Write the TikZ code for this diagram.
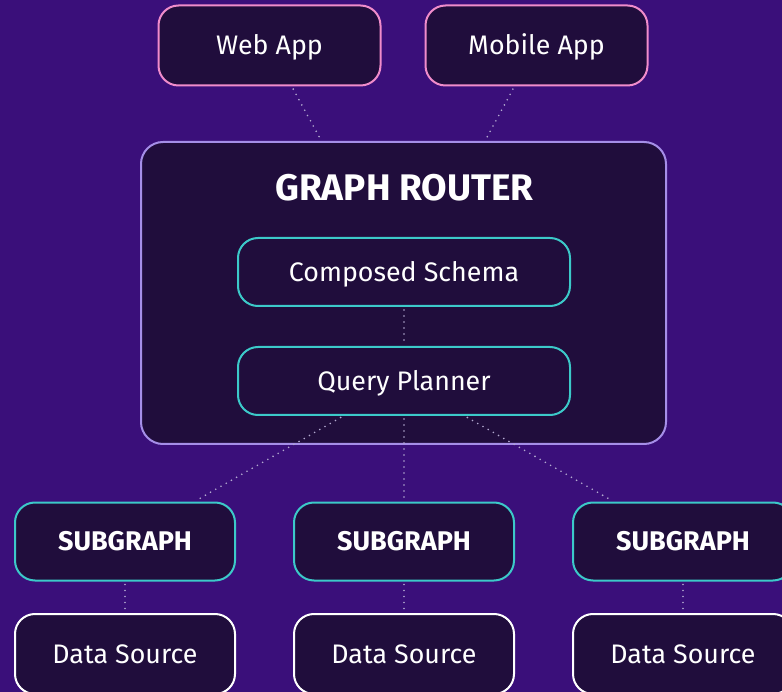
\documentclass[tikz,border=0pt]{standalone}
\usepackage{fontspec}
\setmainfont{Fira Sans}
\definecolor{bgpurple}{HTML}{3A0F7A}
\definecolor{boxfill}{HTML}{200D3C}
\definecolor{pinkline}{HTML}{F08CCB}
\definecolor{lavline}{HTML}{A58EE8}
\definecolor{tealline}{HTML}{3CC9C9}
\definecolor{dotline}{HTML}{B3AAD0}
\tikzset{
  x=1pt, y=-1pt,
  card/.style={draw, line width=2pt, fill=boxfill, rounded corners=20pt,
    text=white, inner sep=0pt, font=\fontsize{26.8}{30}\selectfont,
    text height=18.4pt, text depth=0pt},
  client/.style={card, draw=pinkline, minimum width=222pt, minimum height=80pt},
  inner/.style={card, draw=tealline, minimum width=332pt, minimum height=68pt},
  sub/.style={card, draw=tealline, minimum width=220pt, minimum height=78pt,
    font=\fontsize{27}{30}\selectfont\bfseries},
  source/.style={card, draw=white, minimum width=220pt, minimum height=80pt},
  heading/.style={text=white, inner sep=0pt, text height=25.5pt, text depth=0pt,
    font=\fontsize{37}{40}\selectfont\bfseries},
  link/.style={draw=dotline, line width=1.8pt, line cap=round,
    dash pattern=on 0pt off 6pt, shorten <=3pt, shorten >=2pt},
}
\begin{document}
\begin{tikzpicture}
\fill[bgpurple] (0,0) rectangle (782,692);
\useasboundingbox (0,0) rectangle (782,692);

% clients
\node[client] (web) at (269.5,45.5) {Web App};
\node[client] (mobile) at (536.5,45.5) {Mobile App};

% router
\node[card, draw=lavline, rounded corners=22pt, minimum width=525pt,
  minimum height=302pt] (router) at (403.5,293) {};
\node[heading] (title) at (404.5,188) {GRAPH ROUTER};

\draw[link] (web) -- (router);
\draw[link] (mobile) -- (router);

\node[inner] (schema) at (404,272) {Composed Schema};
\node[inner] (planner) at (404,381) {Query Planner};
\draw[link] (schema) -- (planner);

% subgraphs and their sources
\foreach \i/\x in {1/125, 2/404, 3/683} {
  \node[sub] (sub\i) at (\x,541.5) {SUBGRAPH};
  \node[source] (src\i) at (\x,654) {Data Source};
  \draw[link] (sub\i) -- (src\i);
  \draw[link] (planner) -- (sub\i);
}
\end{tikzpicture}
\end{document}
